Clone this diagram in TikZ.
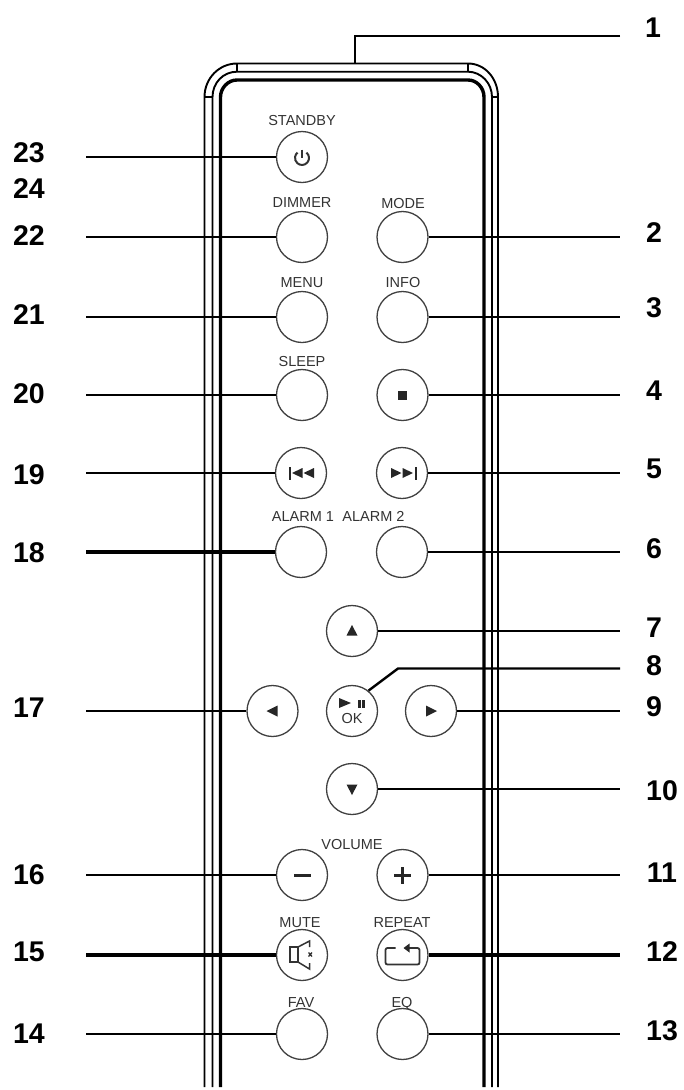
\documentclass[tikz,border=0pt]{standalone}
\usepackage{fontspec}
\setmainfont{Liberation Sans}
\tikzset{
  btn/.style={draw=black!75,line width=1.3pt,fill=white,circle,minimum size=51pt,inner sep=0pt},
  caption/.style={text=black!80,inner sep=0pt,text height=10.4pt,text depth=0pt,font=\fontsize{14.5}{14.5}\selectfont},
  number/.style={text=black,inner sep=0pt,text height=20.5pt,text depth=0pt,font=\fontsize{28.5}{28.5}\selectfont\bfseries},
  wire/.style={draw=black,line width=2.4pt},
  heavywire/.style={draw=black,line width=3.6pt},
  shell/.style={draw=black,line width=1.9pt},
  shellheavy/.style={draw=black,line width=3.4pt},
  glyph/.style={fill=black!85,draw=none},
  stroke/.style={draw=black!80,line width=1.5pt,fill=none}
}
\begin{document}
\begin{tikzpicture}[x=1pt,y=-1pt]
\useasboundingbox (0,0) rectangle (684,1090);

% case outline
\draw[shell] (204.5,1087) -- (204.5,97) .. controls (204.5,78.5) and (219,63.5) .. (237,63.5)
  -- (468,63.5) .. controls (485,63.5) and (498,78.5) .. (498,97) -- (498,1087);
\draw[shell] (212.5,1087) -- (212.5,97) .. controls (212.5,83) and (223,71.7) .. (237,71.7)
  -- (468,71.7) .. controls (481,71.7) and (492,83) .. (492,97) -- (492,1087);
\draw[shellheavy] (220.5,1087) -- (220.5,97) .. controls (220.5,88) and (228,80) .. (237,80)
  -- (468,80) .. controls (477,80) and (484,88) .. (484,97) -- (484,1087);
\draw[shell] (237,63.5) -- (237,71.7) (468,63.5) -- (468,71.7)
  (204.5,97) -- (212.5,97) (492,97) -- (498,97);

% buttons
\foreach \name/\x/\y in {b23/302/157,b22/302/237,b2/402.5/237,b21/302/317,b3/402.5/317,
  b20/302/395,b4/402.5/395,b19/301/473,b5/402/473,b18/301/552,b6/402/552,
  b7/352/631,b8/352/711,b17/272.5/711,b9/431/711,b10/352/789,
  b16/302/875,b11/402.5/875,b15/302/955,b12/402.5/955,b14/302/1034,b13/402.5/1034}{
\node[btn] (\name) at (\x,\y) {};
}

% printed captions
\foreach \name/\x/\y/\txt in {standby/302/120/STANDBY,dimmer/302/202/DIMMER,mode/403/203/MODE,
  menu/302/282/MENU,info/403/282/INFO,sleep/302/361/SLEEP,alarma/303/516/ALARM 1,alarmb/373.5/516/ALARM 2,
  volume/352/844/VOLUME,mute/300/922/MUTE,repeat/402/922/REPEAT,fav/301/1002/FAV,eq/402/1002/EQ,
  ok/352/718/OK}{
\node[caption] (\name) at (\x,\y) {\txt};
}

% left side numbers and wires
\foreach \n/\y/\ly in {23/157/152,22/237/235,21/317/314,20/395/393,19/473/474,17/711/707,16/875/874,14/1034/1033}{
\node[number] (n\n) at (29,\ly) {\n};
\coordinate (c\n) at (86,\y);
\draw[wire] (c\n) -- (b\n);
}
\foreach \n/\y/\ly in {18/552/552,15/955/951}{
\node[number] (n\n) at (29,\ly) {\n};
\coordinate (c\n) at (86,\y);
\draw[heavywire] (c\n) -- (b\n);
}
\node[number] (n24) at (29,188) {24};

% right side numbers and wires
\foreach \n/\y/\ly in {2/237/232,3/317/307,4/395/390,5/473/468,6/552/548,7/631/627,9/711/706}{
\node[number] (n\n) at (654,\ly) {\n};
\coordinate (c\n) at (620,\y);
\draw[wire] (b\n) -- (c\n);
}
\foreach \n/\y/\ly in {10/789/790,11/875/872,13/1034/1030}{
\node[number] (n\n) at (662,\ly) {\n};
\coordinate (c\n) at (620,\y);
\draw[wire] (b\n) -- (c\n);
}
\node[number] (n12) at (662,951) {12};
\coordinate (c12) at (620,955);
\draw[heavywire] (b12) -- (c12);

% the two wires that bend
\node[number] (n1) at (653,27) {1};
\coordinate (c1) at (620,36);
\coordinate (top) at (355,63.5);
\draw[wire] (c1) -- (355,36) -- (top);
\node[number] (n8) at (654,665) {8};
\coordinate (c8) at (620,668.5);
\draw[wire] (c8) -- (398,668.5) -- (b8.51);

% key symbols
\begin{scope}[shift={(b23)}]
\draw[stroke,line width=2pt] (4.5,-4.4) arc[start angle=50,end angle=-230,radius=7pt];
\draw[stroke,line width=2pt] (0,-7.5) -- (0,1);
\end{scope}
\begin{scope}[shift={(b4)}]
\fill[glyph] (-4.5,-4.5) rectangle (4.5,4.5);
\end{scope}
\begin{scope}[shift={(b19)}]
\fill[glyph] (-12.5,-6.5) rectangle (-10.5,6.5);
\fill[glyph] (-9,0) -- (1.5,-5) -- (1.5,5) -- cycle;
\fill[glyph] (2.5,0) -- (13,-5) -- (13,5) -- cycle;
\end{scope}
\begin{scope}[shift={(b5)}]
\fill[glyph] (-11,-5) -- (-0.5,0) -- (-11,5) -- cycle;
\fill[glyph] (0.5,-5) -- (11,0) -- (0.5,5) -- cycle;
\fill[glyph] (13,-6.5) rectangle (15,6.5);
\end{scope}
\fill[glyph] ([shift={(0,-6)}]b7.center) -- ++(5.5,10.5) -- ++(-11,0) -- cycle;
\fill[glyph] ([shift={(0,6)}]b10.center) -- ++(5.5,-10.5) -- ++(-11,0) -- cycle;
\fill[glyph] ([shift={(-6,0)}]b17.center) -- ++(11,-5.5) -- ++(0,11) -- cycle;
\fill[glyph] ([shift={(6,0)}]b9.center) -- ++(-11,-5.5) -- ++(0,11) -- cycle;
\begin{scope}[shift={(b8)}]
\fill[glyph] (-13,-13) -- (-1,-8) -- (-13,-3) -- cycle;
\fill[glyph] (5.5,-11) rectangle (8.5,-3);
\fill[glyph] (10,-11) rectangle (13,-3);
\end{scope}
\begin{scope}[shift={(b16)}]
\fill[glyph] (-8.5,-1.5) rectangle (8.5,1.5);
\end{scope}
\begin{scope}[shift={(b11)}]
\fill[glyph] (-8.5,-1.5) rectangle (8.5,1.5);
\fill[glyph] (-1.5,-8.5) rectangle (1.5,8.5);
\end{scope}
\begin{scope}[shift={(b15)}]
\draw[stroke] (-12,-8) rectangle (-4,7);
\draw[stroke] (-4,-8) -- (7.5,-14) -- (7.5,-8) (7.5,8) -- (7.5,14) -- (-4,7);
\draw[stroke,line width=1.3pt] (6.5,-2.5) -- (10,1.5) (10,-2.5) -- (6.5,1.5);
\end{scope}
\begin{scope}[shift={(b12)}]
\draw[stroke,line width=1.8pt,rounded corners=2pt] (-7,-7) -- (-17,-7) -- (-17,9.5) -- (17,9.5) -- (17,-7) -- (5,-7);
\fill[glyph] (1,-7) -- (7,-11.5) -- (7,-2.5) -- cycle;
\end{scope}

\end{tikzpicture}
\end{document}
